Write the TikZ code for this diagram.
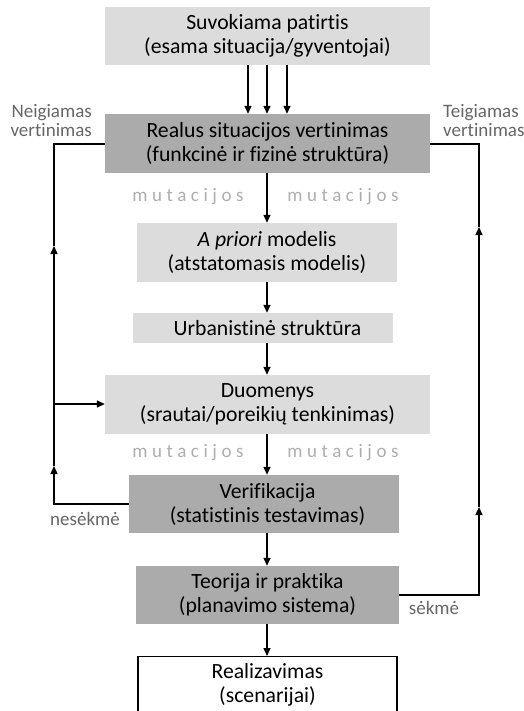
\documentclass[tikz,border=0pt]{standalone}
\usepackage{fontspec}
\setmainfont{Carlito}[Ligatures=NoCommon]
\usetikzlibrary{arrows.meta}
\definecolor{lg}{HTML}{DCDCDC}
\definecolor{dg}{HTML}{ABABAB}
\definecolor{lbl}{HTML}{666666}
\definecolor{mut}{HTML}{AEAEAE}
\begin{document}
\begin{tikzpicture}[x=1pt,y=-1pt,
  box/.style={fill=#1, inner sep=0pt, align=center, font=\fontsize{21.7}{24}\selectfont},
  arr/.style={line width=1.4pt, -{Triangle[length=8pt,width=7pt]}},
  ln/.style={line width=1.4pt},
  lab/.style={text=lbl, inner sep=0pt, font=\fontsize{19}{19}\selectfont},
  mutlab/.style={text=mut, inner sep=0pt, font=\fontsize{19}{19}\selectfont\addfontfeature{LetterSpace=24}}]
\useasboundingbox (0,0) rectangle (523,711);
\clip (0,0) rectangle (523,711);
% boxes
\node[box=lg, minimum width=325pt, minimum height=58pt] (b1) at (267.5,36) {Suvokiama patirtis\\(esama situacija/gyventojai)};
\node[box=dg, minimum width=325pt, minimum height=59pt] (b2) at (267.5,143.5) {Realus situacijos vertinimas\\(funkcinė ir fizinė struktūra)};
\node[box=lg, minimum width=260pt, minimum height=59pt] (b3) at (267,252.5) {\emph{A priori} modelis\\(atstatomasis modelis)};
\node[box=lg, minimum width=260pt, minimum height=30pt] (b4) at (263,328) {\hspace*{9pt}Urbanistinė struktūra};
\node[box=lg, minimum width=325pt, minimum height=59pt] (b5) at (267.5,404.5) {Duomenys\\(srautai/poreikių tenkinimas)};
\node[box=dg, minimum width=270pt, minimum height=58pt] (b6) at (264,504) {\hspace*{7pt}Verifikacija\\\hspace*{7pt}(statistinis testavimas)};
\node[box=dg, minimum width=263pt, minimum height=58pt] (b7) at (267.5,595) {Teorija ir praktika\\(planavimo sistema)};
\node[draw, line width=1.2pt, inner sep=0pt, minimum width=259pt, minimum height=70pt, anchor=north] (b8) at (267.5,656) {};
\node[box=white, anchor=center] (t8) at (267.5,684.5) {Realizavimas\\(scenarijai)};
% axis
\coordinate (ax) at (267,0);
% three arrows
\foreach \xx/\nm in {248/p1,267/p2,287/p3}{
  \coordinate (\nm) at (\xx,0);
  \draw[arr] (b1.south -| \nm) -- (b2.north -| \nm);
}
\draw[arr] (b2.south -| ax) -- (b3.north -| ax);
\draw[arr] (b3.south -| ax) -- (b4.north -| ax);
\draw[arr] (b4.south -| ax) -- (b5.north -| ax);
\draw[arr] (b5.south -| ax) -- (b6.north -| ax);
\draw[arr] (b6.south -| ax) -- (b7.north -| ax);
\draw[arr] (b7.south -| ax) -- (b8.north -| ax);
% left feedback
\coordinate (La) at (54,466);
\coordinate (Lb) at (54,246);
\coordinate (Lc) at (54,144);
\coordinate (Ld) at (54,404);
\draw[arr] (b6.west) -| (La);
\draw[arr] (La) -- (Lb);
\draw[ln] (Lb) -- (Lc) -- (b2.west |- Lc);
\draw[arr] (Ld) -- (b5.west |- Ld);
% right feedback
\coordinate (Ra) at (479,507);
\coordinate (Rb) at (479,227);
\coordinate (Rc) at (479,144);
\draw[arr] (b7.east) -| (Ra);
\draw[arr] (Ra) -- (Rb);
\draw[ln] (Rb) -- (Rc) -- (b2.east |- Rc);
% labels
\node[lab, align=right, anchor=east] (neg) at (92,121) {Neigiamas\\vertinimas};
\node[lab, align=left, anchor=west] (teig) at (443,121) {Teigiamas\\vertinimas};
\node[lab] (nes) at (85,519) {nesėkmė};
\node[lab] (sek) at (434,608) {sėkmė};
\node[mutlab] (m1) at (188,197) {mutacijos};
\node[mutlab] (m2) at (343,197) {mutacijos};
\node[mutlab] (m3) at (188,453) {mutacijos};
\node[mutlab] (m4) at (343,453) {mutacijos};
\end{tikzpicture}
\end{document}
